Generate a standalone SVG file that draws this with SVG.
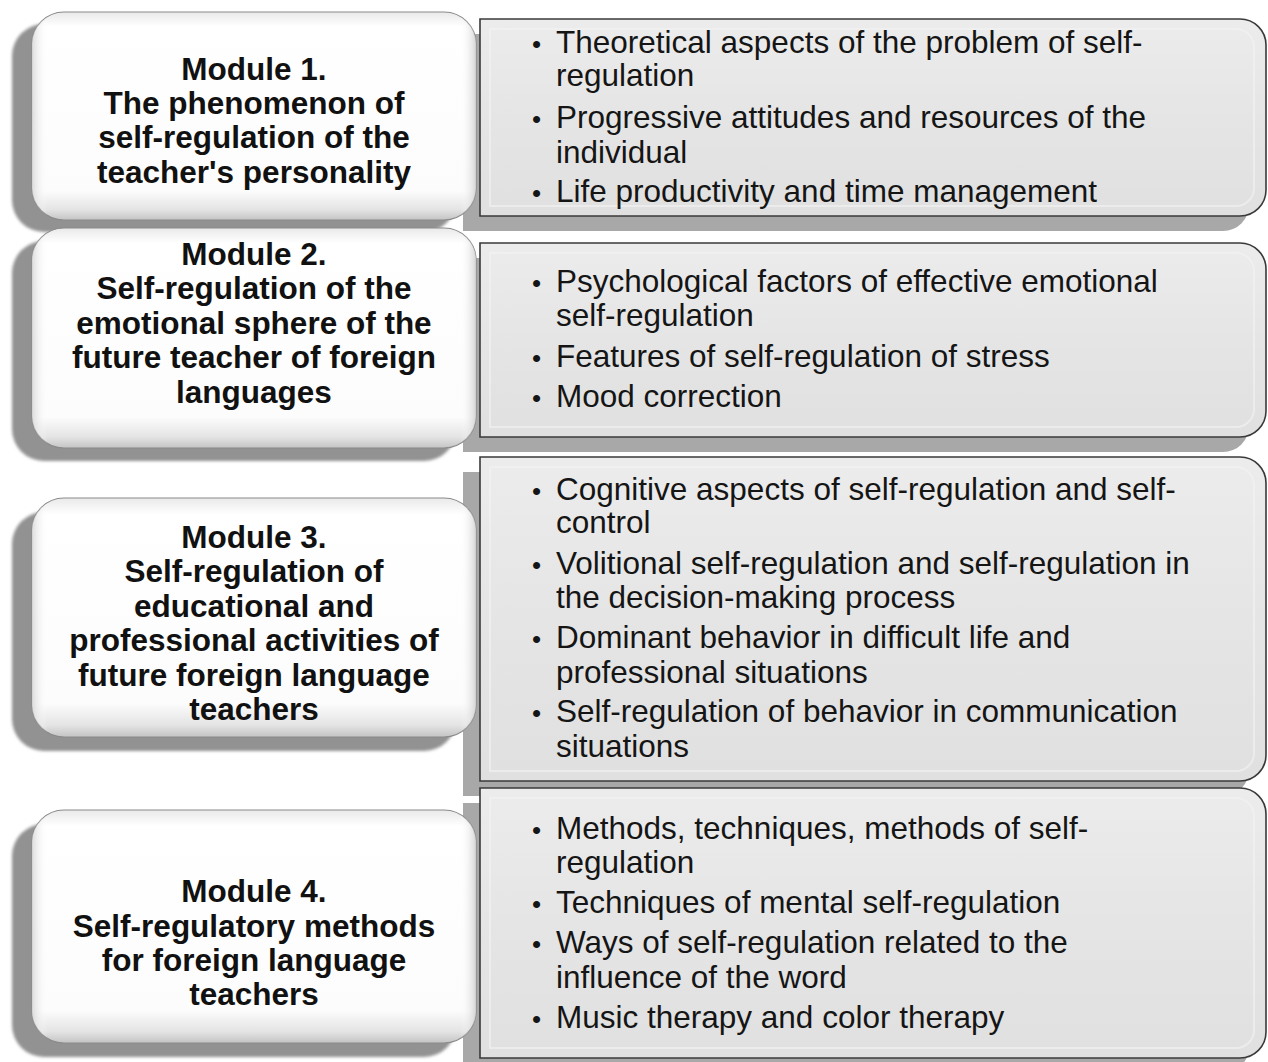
<svg xmlns="http://www.w3.org/2000/svg" width="1268" height="1062" viewBox="0 0 1268 1062">
  <defs>
    <!-- white bevelled module card -->
    <linearGradient id="cardV" x1="0" y1="0" x2="0" y2="1">
      <stop offset="0" stop-color="#e9e9e9"/>
      <stop offset="0.07" stop-color="#ffffff"/>
      <stop offset="0.86" stop-color="#fcfcfc"/>
      <stop offset="0.95" stop-color="#e4e4e4"/>
      <stop offset="1" stop-color="#c4c4c4"/>
    </linearGradient>
    <linearGradient id="cardH" x1="0" y1="0" x2="1" y2="0">
      <stop offset="0" stop-color="#d8d8d8" stop-opacity="0.9"/>
      <stop offset="0.035" stop-color="#ffffff" stop-opacity="0"/>
      <stop offset="0.965" stop-color="#ffffff" stop-opacity="0"/>
      <stop offset="1" stop-color="#d0d0d0" stop-opacity="0.9"/>
    </linearGradient>
    <!-- grey content panel -->
    <linearGradient id="panelFill" x1="0" y1="0" x2="0" y2="1">
      <stop offset="0" stop-color="#ececec"/>
      <stop offset="0.5" stop-color="#e5e5e5"/>
      <stop offset="1" stop-color="#e0e0e0"/>
    </linearGradient>
    <filter id="soft" x="-5%" y="-5%" width="110%" height="110%">
      <feGaussianBlur stdDeviation="1.5"/>
    </filter>
  </defs>
  <style>
    .card-shadow { fill: #929292; filter: url(#soft); }
    .card { fill: url(#cardV); stroke: #8a8a8a; stroke-width: 1.2; }
    .card-edge { fill: url(#cardH); }
    .panel-shadow { fill: #a8a8a8; }
    .panel { fill: url(#panelFill); stroke: #3a3a3a; stroke-width: 1.6; }
    .panel-inner { fill: none; stroke: #f4f4f4; stroke-width: 2; opacity: 0.6; }
    .title { font-family: "Liberation Sans", Arial, sans-serif; font-weight: bold; font-size: 31.5px; fill: #111; text-anchor: middle; }
    .item { font-family: "Liberation Sans", Arial, sans-serif; font-size: 31.5px; fill: #151515; }
    .dot { font-family: "Liberation Sans", Arial, sans-serif; font-size: 26px; fill: #151515; }
  </style>

  <rect width="1268" height="1062" fill="#ffffff"/>

  <!-- content panels (right column) -->
  <g id="panel1">
    <path class="panel-shadow" transform="translate(-17,15)" d="M480 19 H1240 A26 26 0 0 1 1266 45 V190 A26 26 0 0 1 1240 216 H480 Z"/>
    <path class="panel" d="M480 19 H1240 A26 26 0 0 1 1266 45 V190 A26 26 0 0 1 1240 216 H480 Z"/>
    <path class="panel-inner" d="M490 29 H1236 A18 18 0 0 1 1254 47 V188 A18 18 0 0 1 1236 206 H490 Z"/>
    <text class="dot" x="532" y="53">•</text>
    <text class="item" x="556" y="53">Theoretical aspects of the problem of self-</text>
    <text class="item" x="556" y="86">regulation</text>
    <text class="dot" x="532" y="128">•</text>
    <text class="item" x="556" y="128">Progressive attitudes and resources of the</text>
    <text class="item" x="556" y="163">individual</text>
    <text class="dot" x="532" y="202">•</text>
    <text class="item" x="556" y="202">Life productivity and time management</text>
  </g>

  <g id="panel2">
    <path class="panel-shadow" transform="translate(-17,15)" d="M480 243 H1240 A26 26 0 0 1 1266 269 V411 A26 26 0 0 1 1240 437 H480 Z"/>
    <path class="panel" d="M480 243 H1240 A26 26 0 0 1 1266 269 V411 A26 26 0 0 1 1240 437 H480 Z"/>
    <path class="panel-inner" d="M490 253 H1236 A18 18 0 0 1 1254 271 V409 A18 18 0 0 1 1236 427 H490 Z"/>
    <text class="dot" x="532" y="292">•</text>
    <text class="item" x="556" y="292">Psychological factors of effective emotional</text>
    <text class="item" x="556" y="326">self-regulation</text>
    <text class="dot" x="532" y="367">•</text>
    <text class="item" x="556" y="367">Features of self-regulation of stress</text>
    <text class="dot" x="532" y="407">•</text>
    <text class="item" x="556" y="407">Mood correction</text>
  </g>

  <g id="panel3">
    <path class="panel-shadow" transform="translate(-17,15)" d="M480 457 H1240 A26 26 0 0 1 1266 483 V755 A26 26 0 0 1 1240 781 H480 Z"/>
    <path class="panel" d="M480 457 H1240 A26 26 0 0 1 1266 483 V755 A26 26 0 0 1 1240 781 H480 Z"/>
    <path class="panel-inner" d="M490 467 H1236 A18 18 0 0 1 1254 485 V753 A18 18 0 0 1 1236 771 H490 Z"/>
    <text class="dot" x="532" y="500">•</text>
    <text class="item" x="556" y="500">Cognitive aspects of self-regulation and self-</text>
    <text class="item" x="556" y="533">control</text>
    <text class="dot" x="532" y="574">•</text>
    <text class="item" x="556" y="574">Volitional self-regulation and self-regulation in</text>
    <text class="item" x="556" y="608">the decision-making process</text>
    <text class="dot" x="532" y="648">•</text>
    <text class="item" x="556" y="648">Dominant behavior in difficult life and</text>
    <text class="item" x="556" y="683">professional situations</text>
    <text class="dot" x="532" y="722">•</text>
    <text class="item" x="556" y="722">Self-regulation of behavior in communication</text>
    <text class="item" x="556" y="757">situations</text>
  </g>

  <g id="panel4">
    <path class="panel-shadow" transform="translate(-17,15)" d="M480 788 H1240 A26 26 0 0 1 1266 814 V1032 A26 26 0 0 1 1240 1058 H480 Z"/>
    <path class="panel" d="M480 788 H1240 A26 26 0 0 1 1266 814 V1032 A26 26 0 0 1 1240 1058 H480 Z"/>
    <path class="panel-inner" d="M490 798 H1236 A18 18 0 0 1 1254 816 V1030 A18 18 0 0 1 1236 1048 H490 Z"/>
    <text class="dot" x="532" y="839">•</text>
    <text class="item" x="556" y="839">Methods, techniques, methods of self-</text>
    <text class="item" x="556" y="873">regulation</text>
    <text class="dot" x="532" y="913">•</text>
    <text class="item" x="556" y="913">Techniques of mental self-regulation</text>
    <text class="dot" x="532" y="953">•</text>
    <text class="item" x="556" y="953">Ways of self-regulation related to the</text>
    <text class="item" x="556" y="988">influence of the word</text>
    <text class="dot" x="532" y="1028">•</text>
    <text class="item" x="556" y="1028">Music therapy and color therapy</text>
  </g>

  <!-- module cards (left column) -->
  <g id="module1">
    <rect class="card-shadow" x="12" y="24" width="444" height="208" rx="32"/>
    <rect class="card" x="32" y="12" width="444" height="208" rx="32"/>
    <rect class="card-edge" x="32" y="12" width="444" height="208" rx="32"/>
    <text class="title" x="254" y="80">Module 1.</text>
    <text class="title" x="254" y="114">The phenomenon of</text>
    <text class="title" x="254" y="148">self-regulation of the</text>
    <text class="title" x="254" y="183">teacher's personality</text>
  </g>

  <g id="module2">
    <rect class="card-shadow" x="12" y="241" width="444" height="220" rx="32"/>
    <rect class="card" x="32" y="228" width="444" height="220" rx="32"/>
    <rect class="card-edge" x="32" y="228" width="444" height="220" rx="32"/>
    <text class="title" x="254" y="265">Module 2.</text>
    <text class="title" x="254" y="299">Self-regulation of the</text>
    <text class="title" x="254" y="334">emotional sphere of the</text>
    <text class="title" x="254" y="368">future teacher of foreign</text>
    <text class="title" x="254" y="403">languages</text>
  </g>

  <g id="module3">
    <rect class="card-shadow" x="12" y="512" width="444" height="239" rx="32"/>
    <rect class="card" x="32" y="498" width="444" height="239" rx="32"/>
    <rect class="card-edge" x="32" y="498" width="444" height="239" rx="32"/>
    <text class="title" x="254" y="548">Module 3.</text>
    <text class="title" x="254" y="582">Self-regulation of</text>
    <text class="title" x="254" y="617">educational and</text>
    <text class="title" x="254" y="651">professional activities of</text>
    <text class="title" x="254" y="686">future foreign language</text>
    <text class="title" x="254" y="720">teachers</text>
  </g>

  <g id="module4">
    <rect class="card-shadow" x="12" y="824" width="444" height="233" rx="32"/>
    <rect class="card" x="32" y="810" width="444" height="233" rx="32"/>
    <rect class="card-edge" x="32" y="810" width="444" height="233" rx="32"/>
    <text class="title" x="254" y="902">Module 4.</text>
    <text class="title" x="254" y="937">Self-regulatory methods</text>
    <text class="title" x="254" y="971">for foreign language</text>
    <text class="title" x="254" y="1005">teachers</text>
  </g>
</svg>
